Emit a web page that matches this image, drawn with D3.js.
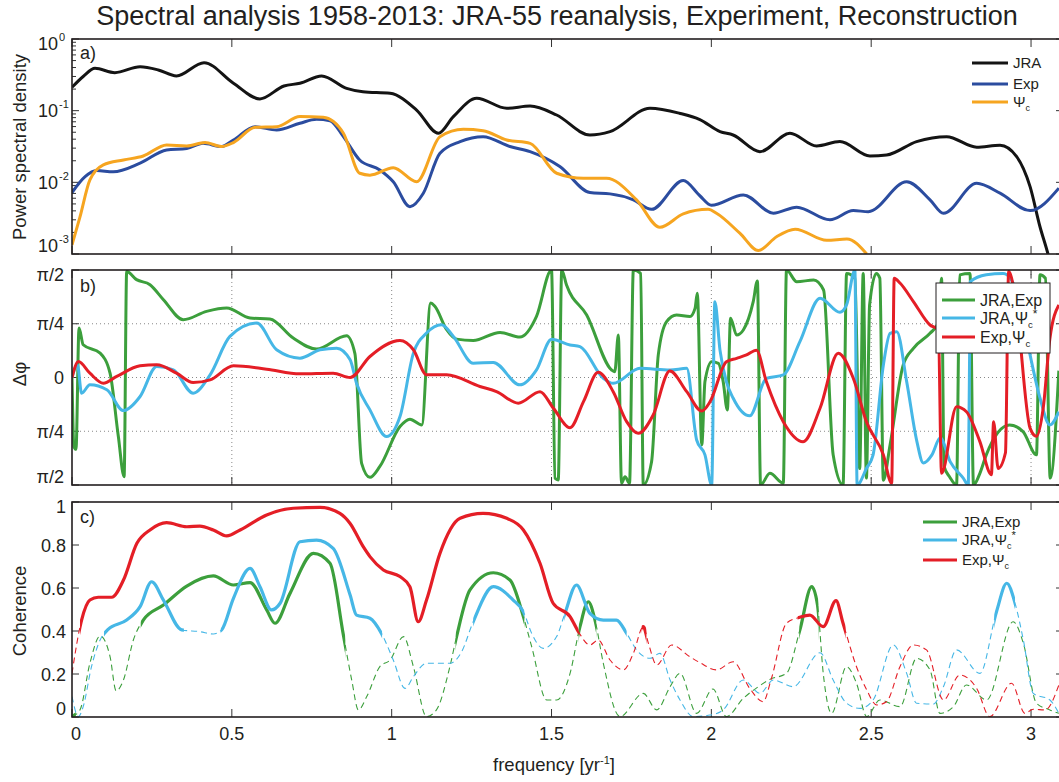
<!DOCTYPE html>
<html>
<head>
<meta charset="UTF-8">
<title>Spectral analysis 1958-2013</title>
<script src="https://d3js.org/d3.v7.min.js"></script>
<style>
  body { margin: 0; background: #fff; }
  svg text { font-family: "Liberation Sans", Arial, sans-serif; fill: #231f20; }
</style>
</head>
<body>
<svg id="chart" width="1059" height="782"></svg>
<script>
// ---- panel a: power spectral density, [frequency, psd]
const psdJRA = [[0,0.212],[0.035,0.3],[0.072,0.39],[0.134,0.339],[0.213,0.41],[0.27,0.37],[0.327,0.305],[0.413,0.467],[0.505,0.241],[0.588,0.146],[0.663,0.221],[0.713,0.241],[0.781,0.305],[0.859,0.205],[0.91,0.184],[0.995,0.175],[1.078,0.102],[1.146,0.0484],[1.193,0.0826],[1.266,0.149],[1.36,0.108],[1.433,0.116],[1.516,0.087],[1.62,0.0458],[1.683,0.051],[1.808,0.108],[1.9,0.092],[1.964,0.075],[2.027,0.051],[2.068,0.0458],[2.152,0.0268],[2.246,0.0484],[2.329,0.0322],[2.402,0.037],[2.496,0.0233],[2.548,0.024],[2.642,0.037],[2.736,0.0434],[2.83,0.0309],[2.903,0.033],[2.955,0.0229],[2.997,0.0087],[3.028,0.0024],[3.053,0.001],[3.08,0.0003]];
const psdExp = [[0,0.0072],[0.041,0.012],[0.077,0.0146],[0.129,0.014],[0.213,0.0185],[0.296,0.0283],[0.359,0.0296],[0.41,0.035],[0.468,0.0316],[0.505,0.039],[0.573,0.0598],[0.64,0.0537],[0.713,0.0667],[0.765,0.0759],[0.807,0.0725],[0.849,0.0434],[0.9,0.0205],[0.963,0.0149],[1.005,0.0102],[1.057,0.00458],[1.099,0.00705],[1.151,0.0255],[1.214,0.037],[1.286,0.0434],[1.37,0.0316],[1.433,0.0268],[1.526,0.0166],[1.62,0.0072],[1.683,0.0069],[1.756,0.0057],[1.813,0.0042],[1.912,0.0106],[1.964,0.0065],[2.0,0.0048],[2.1,0.00667],[2.194,0.00371],[2.267,0.0045],[2.371,0.003],[2.444,0.00403],[2.491,0.0039],[2.611,0.0102],[2.684,0.0057],[2.726,0.0037],[2.83,0.0097],[2.903,0.00705],[2.997,0.00403],[3.087,0.0083]];
const psdPsi = [[0,0.00134],[0.025,0.0033],[0.056,0.0108],[0.098,0.0175],[0.161,0.0205],[0.223,0.0233],[0.296,0.0332],[0.359,0.0322],[0.416,0.0359],[0.468,0.0316],[0.505,0.0359],[0.573,0.0585],[0.64,0.0598],[0.713,0.0826],[0.786,0.0808],[0.849,0.0484],[0.9,0.0134],[0.932,0.0126],[1.005,0.016],[1.078,0.0102],[1.151,0.0434],[1.224,0.055],[1.286,0.0526],[1.36,0.039],[1.433,0.035],[1.516,0.0134],[1.6,0.0114],[1.672,0.0114],[1.766,0.0057],[1.839,0.00236],[1.912,0.00363],[1.99,0.0042],[2.016,0.0037],[2.089,0.00195],[2.147,0.00112],[2.204,0.00174],[2.262,0.00222],[2.361,0.00155],[2.424,0.00162],[2.486,0.001]];

// ---- panel b: phase difference in radians, [frequency, dphi]
const phaseJraExp = [[0,0],[0.006,-1.01],[0.0125,-1.05],[0.022,0.722],[0.035,0.478],[0.088,0.356],[0.119,0.063],[0.145,-0.863],[0.163,-1.449],[0.171,1.55],[0.202,1.43],[0.244,1.356],[0.286,1.137],[0.348,0.844],[0.421,0.966],[0.484,1.015],[0.557,0.868],[0.619,0.854],[0.692,0.576],[0.765,0.415],[0.859,0.61],[0.885,0.35],[0.906,-1.254],[0.932,-1.459],[0.963,-1.3],[1.026,-0.717],[1.057,-0.61],[1.094,-0.693],[1.122,1.088],[1.135,1.04],[1.172,0.698],[1.203,0.561],[1.255,0.541],[1.339,0.659],[1.401,0.59],[1.453,0.893],[1.5,1.57],[1.511,-1.473],[1.521,-1.497],[1.532,1.57],[1.547,1.35],[1.61,0.913],[1.688,0.11],[1.698,0.085],[1.709,0.62],[1.719,-1.546],[1.73,-1.45],[1.744,-1.546],[1.756,1.57],[1.779,1.52],[1.787,-1.57],[1.813,-1.23],[1.834,0.33],[1.86,0.816],[1.891,0.913],[1.933,0.89],[1.949,1.01],[1.956,1.23],[1.97,-0.986],[1.98,-0.06],[2.001,0.23],[2.022,0.207],[2.037,-0.06],[2.05,-0.475],[2.06,0.864],[2.079,0.62],[2.1,0.694],[2.131,1.108],[2.144,1.41],[2.154,-1.57],[2.183,-1.4],[2.225,-1.546],[2.235,1.57],[2.267,1.4],[2.32,1.424],[2.351,1.278],[2.381,-1.13],[2.412,-1.57],[2.423,1.52],[2.449,1.45],[2.464,-1.33],[2.475,1.52],[2.485,-1.47],[2.495,1.06],[2.516,1.52],[2.527,1.45],[2.538,-1.5],[2.559,-0.986],[2.6,0.18],[2.632,0.426],[2.684,0.645],[2.71,0.8],[2.72,1.45],[2.728,-1.3],[2.745,-1.45],[2.767,-1.57],[2.777,1.5],[2.809,1.52],[2.82,-1.57],[2.84,-1.4],[2.86,-1.13],[2.933,-0.694],[2.975,-0.79],[3.017,-1.13],[3.028,1.5],[3.045,1.45],[3.06,-1.47],[3.087,0.1]];
const phaseJraPsi = [[0,0],[0.017,0.185],[0.03,-0.229],[0.056,-0.107],[0.109,-0.18],[0.161,-0.483],[0.213,-0.278],[0.265,0.161],[0.317,0.112],[0.379,-0.229],[0.432,0.039],[0.494,0.6],[0.578,0.795],[0.64,0.405],[0.713,0.283],[0.776,0.405],[0.828,0.429],[0.87,0.259],[0.89,-0.083],[0.932,-0.473],[0.984,-0.863],[1.026,-0.571],[1.068,0.356],[1.109,0.649],[1.156,0.771],[1.193,0.6],[1.255,0.21],[1.318,0.22],[1.401,-0.107],[1.453,0.112],[1.5,0.56],[1.558,0.475],[1.589,0.45],[1.662,-0.012],[1.693,-0.085],[1.777,0.134],[1.871,0.11],[1.923,0.134],[1.954,-0.913],[1.98,-1.13],[2.001,-1.57],[2.011,1.108],[2.027,0.4],[2.047,-0.06],[2.068,-0.3],[2.12,-0.56],[2.172,-0.012],[2.225,0.037],[2.277,0.523],[2.34,1.157],[2.402,0.952],[2.423,1.06],[2.449,1.57],[2.456,-1.57],[2.485,-1.33],[2.506,-1.13],[2.538,0.18],[2.559,0.645],[2.58,0.67],[2.611,-0.06],[2.643,-0.937],[2.663,-1.25],[2.69,-1.13],[2.716,-0.88],[2.747,-1.23],[2.788,-1.47],[2.804,-1.57],[2.81,1.4],[2.86,1.5],[2.913,1.52],[2.96,1.2],[2.997,0.33],[3.028,-0.3],[3.059,-0.694],[3.087,-0.5]];
const phaseExpPsi = [[0,0],[0.02,0.234],[0.056,0.063],[0.098,-0.083],[0.14,0.015],[0.213,0.171],[0.265,0.185],[0.327,0.063],[0.379,-0.073],[0.432,-0.034],[0.505,0.171],[0.609,0.122],[0.713,0.054],[0.817,0.063],[0.87,0],[0.932,0.307],[1.026,0.541],[1.068,0.405],[1.109,0.039],[1.172,0.039],[1.276,-0.132],[1.328,-0.205],[1.396,-0.376],[1.464,-0.207],[1.506,-0.45],[1.558,-0.733],[1.6,-0.353],[1.646,0.075],[1.693,-0.207],[1.735,-0.645],[1.771,-0.816],[1.818,-0.548],[1.87,0.095],[1.923,-0.207],[1.97,-0.49],[1.996,-0.353],[2.047,0.231],[2.079,0.28],[2.11,0.329],[2.141,0.4],[2.172,-0.06],[2.225,-0.645],[2.287,-0.937],[2.34,-0.45],[2.397,0.353],[2.444,-0.012],[2.485,-0.645],[2.538,-1.13],[2.564,-1.546],[2.572,1.45],[2.59,1.38],[2.632,1.11],[2.684,0.767],[2.71,0.7],[2.72,-1.4],[2.767,-0.426],[2.798,-0.5],[2.84,-0.937],[2.876,-1.42],[2.883,-0.645],[2.897,-1.33],[2.92,-1.1],[2.93,1.55],[2.95,1.2],[2.997,-0.74],[3.017,-0.86],[3.038,-0.45],[3.059,0.57],[3.087,1.06]];

// ---- panel c: coherence, [frequency, coherence]
const cohJraExp = [[0,0.002],[0.025,0.033],[0.056,0.25],[0.088,0.377],[0.119,0.281],[0.138,0.122],[0.161,0.172],[0.192,0.358],[0.223,0.451],[0.286,0.521],[0.359,0.609],[0.442,0.656],[0.505,0.614],[0.557,0.625],[0.609,0.498],[0.635,0.436],[0.682,0.575],[0.755,0.761],[0.807,0.715],[0.849,0.381],[0.875,0.172],[0.896,0.033],[0.922,0.095],[0.963,0.234],[0.995,0.265],[1.037,0.374],[1.068,0.234],[1.109,0.002],[1.14,0.033],[1.182,0.234],[1.203,0.374],[1.245,0.591],[1.318,0.671],[1.37,0.637],[1.412,0.467],[1.438,0.327],[1.485,0.079],[1.516,0.079],[1.558,0.203],[1.589,0.42],[1.615,0.536],[1.636,0.451],[1.662,0.25],[1.714,0.002],[1.787,0.11],[1.829,0.033],[1.871,0.141],[1.902,0.203],[1.954,0.017],[2.005,0.13],[2.047,0.002],[2.1,0.087],[2.147,0.141],[2.183,0.175],[2.235,0.203],[2.277,0.405],[2.314,0.606],[2.332,0.521],[2.35,0.203],[2.376,0.017],[2.423,0.234],[2.454,0.157],[2.486,0.002],[2.527,0.079],[2.59,0.048],[2.642,0.273],[2.684,0.219],[2.715,0.017],[2.757,0.048],[2.798,0.149],[2.861,0.079],[2.944,0.443],[2.976,0.343],[3.017,0.064],[3.059,0.033],[3.087,0.017]];
const cohJraPsi = [[0,0.095],[0.02,0.002],[0.035,0.048],[0.061,0.234],[0.088,0.358],[0.113,0.408],[0.171,0.451],[0.213,0.513],[0.249,0.629],[0.286,0.544],[0.343,0.405],[0.4,0.397],[0.442,0.386],[0.468,0.405],[0.505,0.552],[0.557,0.691],[0.588,0.606],[0.624,0.498],[0.651,0.529],[0.713,0.815],[0.765,0.823],[0.817,0.784],[0.87,0.567],[0.89,0.474],[0.932,0.459],[0.968,0.389],[1.005,0.265],[1.042,0.133],[1.068,0.188],[1.109,0.25],[1.182,0.25],[1.219,0.304],[1.255,0.443],[1.318,0.606],[1.38,0.544],[1.412,0.49],[1.438,0.389],[1.474,0.319],[1.516,0.374],[1.542,0.482],[1.578,0.614],[1.62,0.482],[1.662,0.451],[1.703,0.451],[1.735,0.389],[1.766,0.312],[1.808,0.273],[1.839,0.296],[1.871,0.172],[1.902,0.079],[1.943,0.002],[1.996,0.009],[2.037,0.033],[2.1,0.172],[2.152,0.11],[2.194,0.172],[2.256,0.141],[2.34,0.299],[2.381,0.172],[2.423,0.064],[2.465,0.04],[2.506,0.079],[2.569,0.335],[2.611,0.203],[2.642,0.064],[2.694,0.06],[2.726,0.141],[2.767,0.312],[2.84,0.203],[2.892,0.49],[2.924,0.622],[2.95,0.529],[2.976,0.358],[3.007,0.11],[3.059,0.079],[3.087,0.017]];
const cohExpPsi = [[0,0.203],[0.03,0.451],[0.056,0.544],[0.082,0.557],[0.124,0.557],[0.161,0.637],[0.203,0.808],[0.244,0.87],[0.296,0.904],[0.359,0.885],[0.4,0.888],[0.442,0.87],[0.484,0.842],[0.526,0.87],[0.609,0.94],[0.692,0.971],[0.776,0.975],[0.838,0.947],[0.87,0.9],[0.911,0.792],[0.932,0.746],[0.974,0.684],[1.026,0.653],[1.057,0.606],[1.083,0.443],[1.109,0.544],[1.151,0.761],[1.214,0.924],[1.286,0.947],[1.36,0.924],[1.412,0.87],[1.464,0.715],[1.505,0.529],[1.558,0.467],[1.584,0.397],[1.62,0.335],[1.646,0.358],[1.683,0.265],[1.725,0.219],[1.756,0.296],[1.787,0.42],[1.803,0.343],[1.829,0.242],[1.876,0.335],[1.933,0.28],[1.964,0.253],[2.016,0.219],[2.068,0.257],[2.12,0.133],[2.162,0.071],[2.188,0.18],[2.235,0.436],[2.277,0.464],[2.308,0.474],[2.35,0.42],[2.39,0.541],[2.412,0.436],[2.454,0.234],[2.486,0.126],[2.517,0.056],[2.548,0.071],[2.59,0.234],[2.632,0.335],[2.673,0.312],[2.726,0.079],[2.777,0.195],[2.83,0.133],[2.871,0.0016],[2.939,0.157],[2.981,0.017],[3.007,0.036],[3.044,0.033],[3.087,0.149]];

// frequency bands where coherence is significant (drawn solid)
const sigJraExp = [[0,0.012],[0.215,0.855],[1.2,1.415],[1.585,1.64],[2.275,2.335]];
const sigJraPsi = [[0.1,0.35],[0.465,0.97],[1.255,1.415],[1.54,1.735],[2.885,2.95]];
const sigExpPsi = [[0.025,1.585],[1.782,1.797],[2.27,2.42]];

const freqTicks = [0, 0.5, 1, 1.5, 2, 2.5, 3];
const psdTicks = [1e-3, 1e-2, 1e-1, 1];
const psdTickExp = ["-3", "-2", "-1", "0"];
const phaseTicks = [-Math.PI/2, -Math.PI/4, 0, Math.PI/4, Math.PI/2];
const phaseTickLabels = ["\u03c0/2", "\u03c0/4", "0", "\u03c0/4", "\u03c0/2"];
const cohTicks = [0, 0.2, 0.4, 0.6, 0.8, 1];

const colJRA = "#141414", colExp = "#2b4c9f", colPsi = "#f6a520";
const colGreen = "#3c9f3c", colBlue = "#46b7e6", colRed = "#e41e26";

const svg = d3.select("#chart");
const x = d3.scaleLinear().domain([0, 3.1]).range([72, 1063]);
const yA = d3.scaleLog().domain([1e-3, 1]).range([254, 39]);
const yB = d3.scaleLinear().domain([-Math.PI/2, Math.PI/2]).range([485, 270]);
const yC = d3.scaleLinear().domain([0, 1]).range([717, 502]);

const defs = svg.append("defs");
function clip(id, y) {
  defs.append("clipPath").attr("id", id).append("rect")
    .attr("x", x(0)).attr("y", y.range()[1])
    .attr("width", x(3.1) - x(0)).attr("height", y.range()[0] - y.range()[1]);
}
clip("clipA", yA); clip("clipB", yB); clip("clipC", yC);

// title
svg.append("text").attr("x", 557).attr("y", 25).attr("text-anchor", "middle")
  .style("font-size", "27px").text("Spectral analysis 1958-2013: JRA-55 reanalysis, Experiment, Reconstruction");

// ---------- frames and ticks ----------
function frame(y, grid) {
  const g = svg.append("g");
  const top = y.range()[1], bot = y.range()[0];
  if (grid) {
    freqTicks.filter(t => t > 0).forEach(t => {
      g.append("line").attr("x1", x(t)).attr("x2", x(t)).attr("y1", top).attr("y2", bot)
        .attr("stroke", "#888").attr("stroke-width", 1).attr("stroke-dasharray", "1,3");
    });
  }
  freqTicks.forEach(t => {
    g.append("line").attr("x1", x(t)).attr("x2", x(t)).attr("y1", bot).attr("y2", bot - 8)
      .attr("stroke", "#333").attr("stroke-width", 1);
    g.append("line").attr("x1", x(t)).attr("x2", x(t)).attr("y1", top).attr("y2", top + 8)
      .attr("stroke", "#333").attr("stroke-width", 1);
  });
  return g;
}
function yTick(g, py, len) {
  g.append("line").attr("x1", x(0)).attr("x2", x(0) + len).attr("y1", py).attr("y2", py)
    .attr("stroke", "#333").attr("stroke-width", 1);
  g.append("line").attr("x1", x(3.1)).attr("x2", x(3.1) - len).attr("y1", py).attr("y2", py)
    .attr("stroke", "#333").attr("stroke-width", 1);
}
function box(y) {
  svg.append("rect").attr("x", x(0)).attr("y", y.range()[1])
    .attr("width", x(3.1) - x(0)).attr("height", y.range()[0] - y.range()[1])
    .attr("fill", "none").attr("stroke", "#231f20").attr("stroke-width", 1.6);
}
// MATLAB nudges the end labels inward
function labelBaseline(y, t, i, n) {
  if (i === 0) return y(t) - 2;
  if (i === n - 1) return y(t) + 11;
  return y(t) + 6.5;
}

// panel a
const gA = frame(yA, false);
psdTicks.forEach((t, i) => {
  yTick(gA, yA(t), 7);
  const by = labelBaseline(yA, t, i, psdTicks.length);
  gA.append("text").attr("x", 58).attr("y", by).attr("text-anchor", "end")
    .style("font-size", "18px").text("10");
  gA.append("text").attr("x", 59).attr("y", by - 9).style("font-size", "11px").text(psdTickExp[i]);
});
[-3, -2, -1].forEach(k => {
  d3.range(2, 10).forEach(m => yTick(gA, yA(m * Math.pow(10, k)), 4));
});

// panel b
const gB = frame(yB, true);
phaseTicks.forEach((t, i) => {
  if (Math.abs(t) < 1.5) {
    gB.append("line").attr("x1", x(0)).attr("x2", x(3.1)).attr("y1", yB(t)).attr("y2", yB(t))
      .attr("stroke", "#888").attr("stroke-width", 1).attr("stroke-dasharray", "1,3");
  }
  yTick(gB, yB(t), 7);
  gB.append("text").attr("x", 64).attr("y", labelBaseline(yB, t, i, phaseTicks.length))
    .attr("text-anchor", "end").style("font-size", "18px").text(phaseTickLabels[i]);
});

// panel c
const gC = frame(yC, false);
cohTicks.forEach((t, i) => {
  yTick(gC, yC(t), 7);
  gC.append("text").attr("x", 66).attr("y", labelBaseline(yC, t, i, cohTicks.length))
    .attr("text-anchor", "end").style("font-size", "18px")
    .text(t === 0 ? "0" : t === 1 ? "1" : d3.format(".1f")(t));
});
freqTicks.forEach((t, i) => {
  svg.append("text").attr("x", x(t) + (i === 0 ? 4 : 0)).attr("y", 740).attr("text-anchor", "middle")
    .style("font-size", "18px").text(t);
});

// ---------- curves ----------
function curve(data, y, color, w, clipId, dash) {
  const line = d3.line().x(d => x(d[0])).y(d => y(d[1])).curve(d3.curveMonotoneX);
  return svg.append("path").datum(data).attr("d", line)
    .attr("fill", "none").attr("stroke", color).attr("stroke-width", w)
    .attr("stroke-dasharray", dash || null).attr("stroke-linejoin", "round")
    .attr("clip-path", `url(#${clipId})`);
}

curve(psdJRA, yA, colJRA, 3, "clipA");
curve(psdExp, yA, colExp, 3, "clipA");
curve(psdPsi, yA, colPsi, 3, "clipA");

curve(phaseJraExp, yB, colGreen, 3, "clipB");
curve(phaseJraPsi, yB, colBlue, 3, "clipB");
curve(phaseExpPsi, yB, colRed, 3, "clipB");

function coherence(data, sig, color, id) {
  curve(data, yC, color, 1.1, "clipC", "6,4");
  const cp = defs.append("clipPath").attr("id", id);
  sig.forEach(s => cp.append("rect").attr("x", x(s[0])).attr("width", x(s[1]) - x(s[0]))
    .attr("y", yC(1) - 5).attr("height", yC(0) - yC(1) + 5));
  curve(data, yC, color, 3.2, id);
}
coherence(cohJraExp, sigJraExp, colGreen, "sigG");
coherence(cohJraPsi, sigJraPsi, colBlue, "sigB");
coherence(cohExpPsi, sigExpPsi, colRed, "sigR");

box(yA); box(yB); box(yC);

// panel letters
svg.append("text").attr("x", 80).attr("y", 59).style("font-size", "18px").text("a)");
svg.append("text").attr("x", 80).attr("y", 292).style("font-size", "18px").text("b)");
svg.append("text").attr("x", 80).attr("y", 523).style("font-size", "18px").text("c)");

// axis labels
function yLabel(txt, cy) {
  svg.append("text").attr("transform", `translate(26,${cy}) rotate(-90)`)
    .attr("text-anchor", "middle").style("font-size", "18.5px").text(txt);
}
yLabel("Power spectral density", 147);
yLabel("\u0394\u03c6", 374);
yLabel("Coherence", 611);
const xl = svg.append("text").attr("x", 554).attr("y", 771).attr("text-anchor", "middle").style("font-size", "18.5px");
xl.append("tspan").text("frequency [yr");
xl.append("tspan").attr("dy", -7).style("font-size", "11px").text("-1");
xl.append("tspan").attr("dy", 7).text("]");

// ---------- legends ----------
function psiLabel(t, base, star, sz) {
  t.append("tspan").text(base + "\u03a8");
  t.append("tspan").attr("dy", 4).style("font-size", (sz * 0.6) + "px").text("c");
  if (star) t.append("tspan").attr("dy", -10).style("font-size", (sz * 0.75) + "px").text("*");
}
// a
const legA = [["JRA", colJRA], ["Exp", colExp], [null, colPsi]];
const legAy = [63, 84, 102];
legA.forEach((d, i) => {
  svg.append("line").attr("x1", 972).attr("x2", 1008).attr("y1", legAy[i]).attr("y2", legAy[i])
    .attr("stroke", d[1]).attr("stroke-width", 3);
  const t = svg.append("text").attr("x", 1013).attr("y", legAy[i] + 5).style("font-size", "15px");
  if (d[0]) t.text(d[0]); else psiLabel(t, "", false, 15);
});
// b (boxed)
svg.append("rect").attr("x", 936).attr("y", 283).attr("width", 114).attr("height", 70)
  .attr("fill", "#fff").attr("stroke", "#231f20").attr("stroke-width", 1);
const legB = [["JRA,Exp", colGreen], ["JRA,", colBlue], ["Exp,", colRed]];
const legBy = [300, 318, 337];
legB.forEach((d, i) => {
  svg.append("line").attr("x1", 942).attr("x2", 975).attr("y1", legBy[i]).attr("y2", legBy[i])
    .attr("stroke", d[1]).attr("stroke-width", 3);
  const t = svg.append("text").attr("x", 980).attr("y", legBy[i] + 6).style("font-size", "16px");
  if (i === 0) t.text(d[0]); else psiLabel(t, d[0], i === 1, 16);
});
// c
const legCy = [522, 540, 560];
legB.forEach((d, i) => {
  svg.append("line").attr("x1", 923).attr("x2", 957).attr("y1", legCy[i]).attr("y2", legCy[i])
    .attr("stroke", d[1]).attr("stroke-width", 3);
  const t = svg.append("text").attr("x", 962).attr("y", legCy[i] + 5).style("font-size", "15px");
  if (i === 0) t.text(d[0]); else psiLabel(t, d[0], i === 1, 15);
});
</script>
</body>
</html>
